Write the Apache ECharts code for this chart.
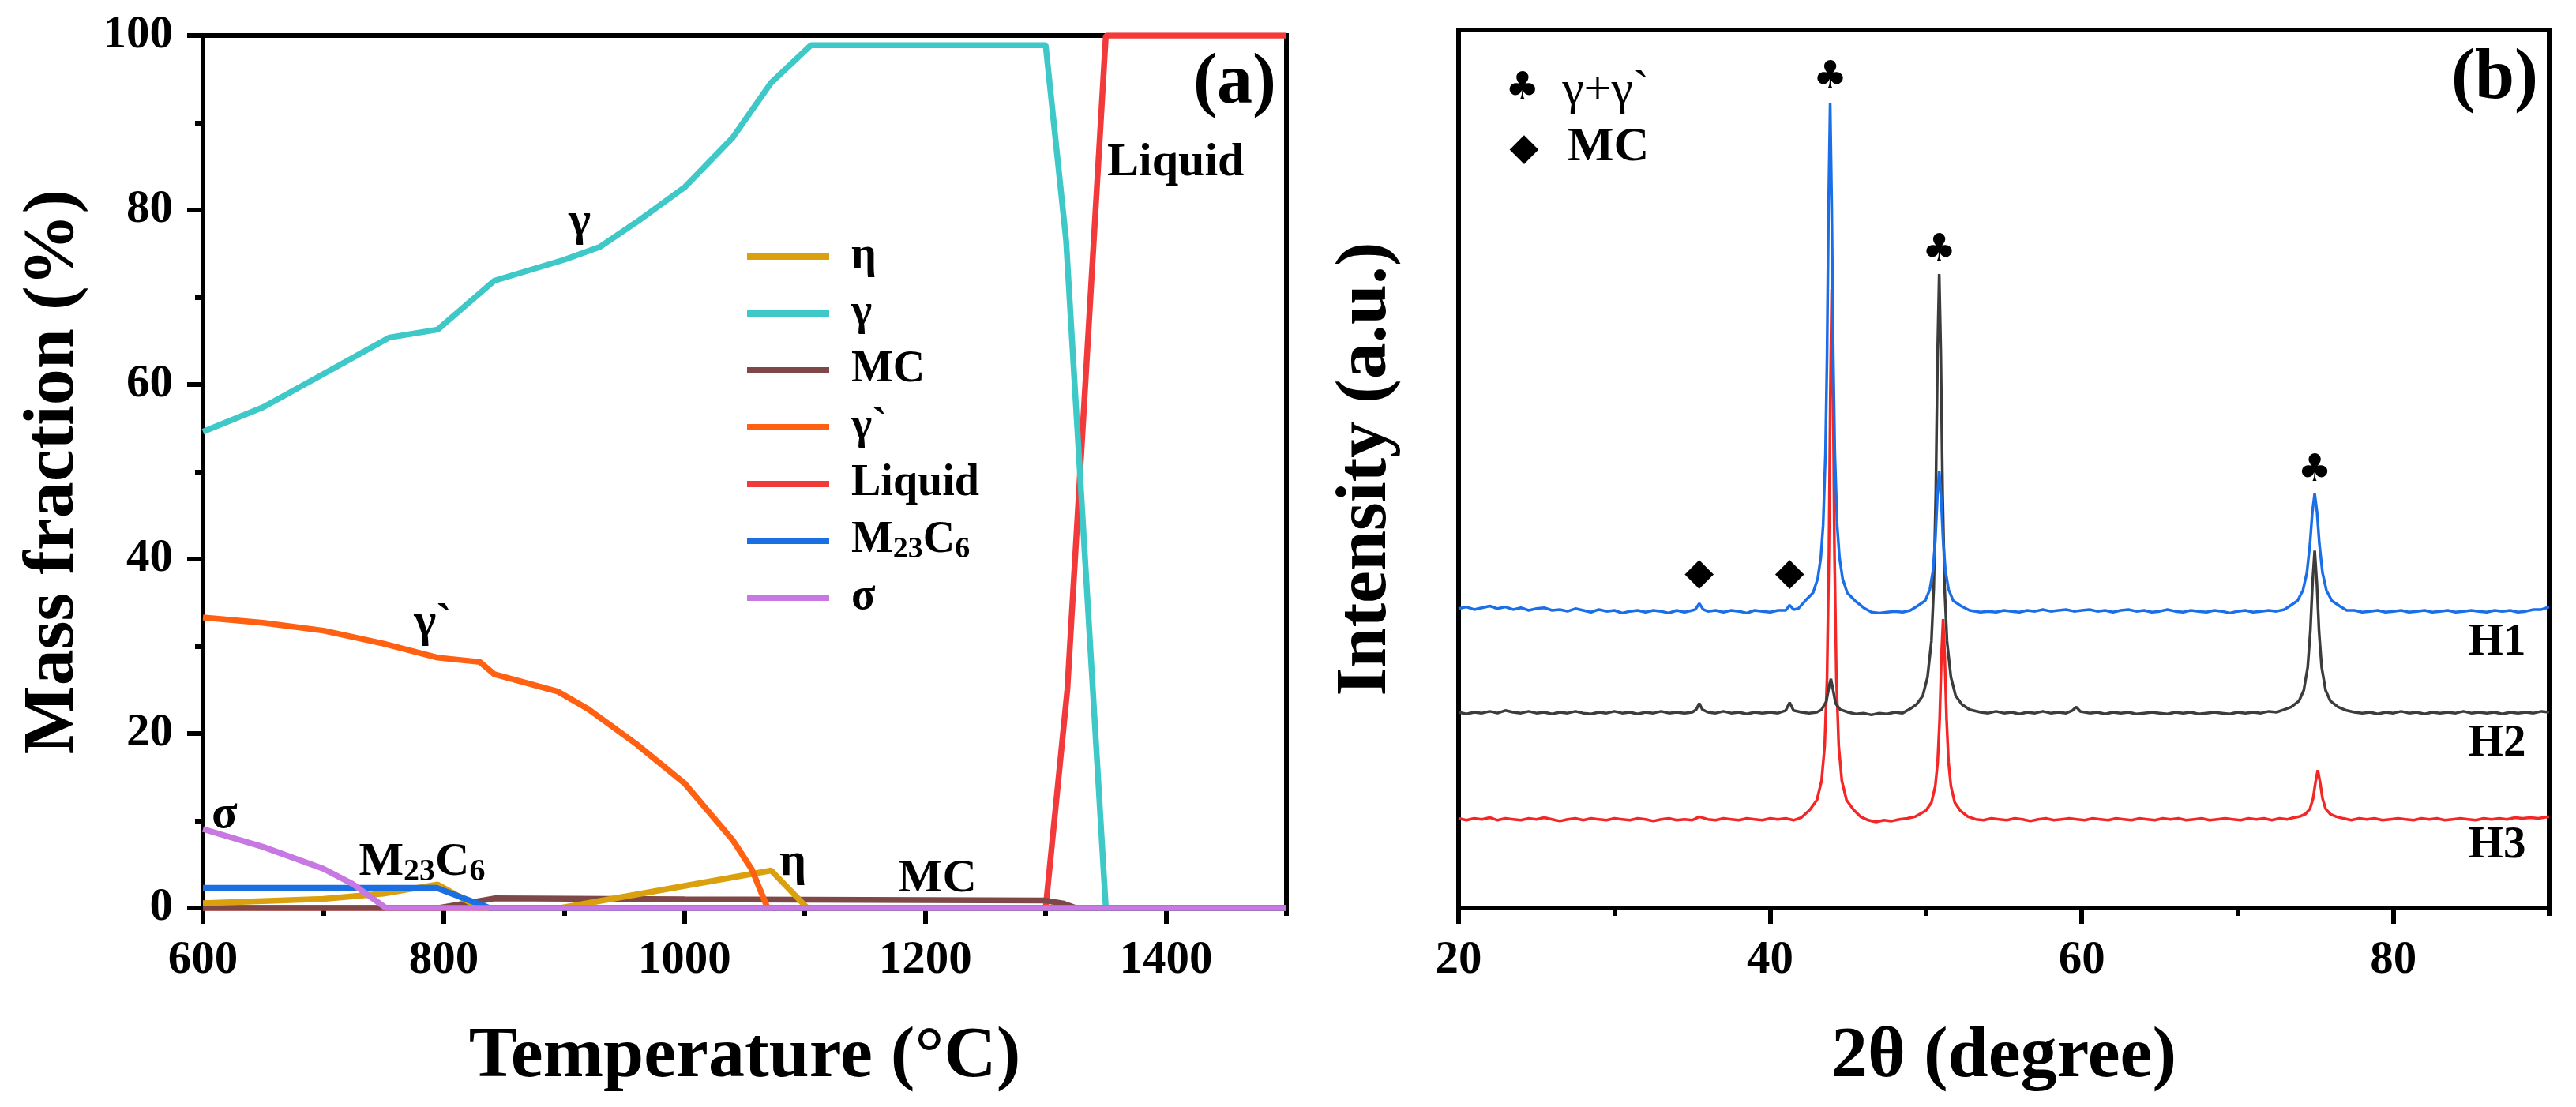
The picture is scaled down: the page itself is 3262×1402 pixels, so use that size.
<!DOCTYPE html>
<html>
<head>
<meta charset="utf-8">
<script src="https://cdn.jsdelivr.net/npm/echarts@6/dist/echarts.min.js"></script>
<style>
html, body { margin: 0; padding: 0; background: #fff; }
#main { width: 3262px; height: 1402px; }
</style>
</head>
<body>
<div id="main"></div>
<script type="text/javascript">

// ---- (a) phase mass fraction vs temperature, [T (°C), %] ----
var etaData    = [[600,0.55],[650,0.8],[700,1.05],[750,1.65],[795,2.7],[830,0],[897,0],[1072,4.3],[1102,0],[1500,0]];
var gammaData  = [[600,54.6],[650,57.4],[700,61.2],[755,65.4],[795,66.3],[842,71.9],[900,74.3],[930,75.8],[960,78.6],[1000,82.6],[1040,88.3],[1072,94.6],[1105,98.9],[1300,98.9],[1317,76.5],[1350,0],[1500,0]];
var mcData     = [[600,0],[796,0],[842,1.1],[1000,1.0],[1200,0.9],[1300,0.85],[1315,0.5],[1325,0],[1500,0]];
var gammaPData = [[600,33.3],[650,32.7],[700,31.8],[750,30.3],[795,28.7],[830,28.2],[842,26.8],[895,24.8],[920,22.8],[960,18.8],[1000,14.3],[1040,7.8],[1056,4.4],[1069,0],[1500,0]];
var liquidData = [[600,0],[1300,0],[1318,25],[1350,100],[1500,100]];
var m23Data    = [[600,2.3],[794,2.3],[838,0],[1500,0]];
var sigmaData  = [[600,9.05],[650,7.0],[700,4.5],[725,2.7],[752,0],[1500,0]];

var tempMajor = [600, 800, 1000, 1200, 1400];
var tempMinor = [700, 900, 1100, 1300, 1500];

// ---- (b) XRD patterns, [2θ, intensity (offset, a.u.)] ----
var h1Data = [[20,34.1],[20.5,34.3],[21,34.0],[21.5,34.2],[22,34.4],[22.5,34.1],[23,34.3],[23.5,34.0],[24,34.2],[24.5,33.9],[25,34.1],[25.5,34.2],[26,33.9],[26.5,34.0],[27,33.8],[27.5,34.1],[28,33.9],[28.5,33.7],[29,34.0],[29.5,33.8],[30,33.9],[30.5,33.6],[31,33.8],[31.5,33.9],[32,33.7],[32.5,33.9],[33,33.8],[33.5,33.6],[34,33.9],[34.5,33.7],[35,33.9],[35.2,34.0],[35.45,34.7],[35.7,34.0],[36,33.8],[36.5,33.9],[37,33.7],[37.5,33.9],[38,33.8],[38.5,33.6],[39,33.9],[39.5,33.8],[40,33.7],[40.5,33.9],[41,33.9],[41.25,34.5],[41.5,34.0],[41.8,34.1],[42.25,35.0],[42.75,35.9],[43.05,37.5],[43.25,39.9],[43.4,43.6],[43.55,51.8],[43.65,62.9],[43.75,80.2],[43.85,91.7],[43.95,80.2],[44.05,62.9],[44.15,51.8],[44.3,43.6],[44.45,39.9],[44.65,37.5],[44.95,35.9],[45.45,35.0],[46.0,34.2],[46.5,33.7],[47,33.6],[47.5,33.7],[48,33.8],[48.5,33.7],[49,33.9],[49.45,34.4],[49.95,35.0],[50.25,36.3],[50.45,38.4],[50.6,41.9],[50.73,46.8],[50.85,49.8],[50.97,46.8],[51.1,41.9],[51.25,38.4],[51.45,36.3],[51.75,35.0],[52.25,34.4],[52.8,33.9],[53.5,33.7],[54,33.8],[54.5,33.7],[55,33.9],[55.5,33.8],[56,33.7],[56.5,33.9],[57,33.8],[57.5,34.0],[58,33.8],[58.5,33.9],[59,34.0],[59.5,33.8],[60,33.9],[60.5,34.0],[61,33.8],[61.5,33.9],[62,33.7],[62.5,33.9],[63,34.0],[63.5,33.8],[64,33.9],[64.5,33.7],[65,33.8],[65.5,34.0],[66,33.8],[66.5,33.7],[67,33.9],[67.5,33.8],[68,33.7],[68.5,33.9],[69,33.8],[69.5,33.6],[70,33.8],[70.5,33.9],[71,33.7],[71.5,33.8],[72,33.9],[72.5,33.8],[73,34.0],[73.35,34.4],[73.85,35.0],[74.2,36.2],[74.45,38.2],[74.65,41.5],[74.8,45.1],[74.95,47.2],[75.1,45.1],[75.25,41.5],[75.45,38.2],[75.7,36.2],[76.05,35.0],[76.55,34.4],[77,33.9],[77.5,33.9],[78,33.7],[78.5,33.8],[79,33.9],[79.5,33.7],[80,33.8],[80.5,33.9],[81,33.7],[81.5,33.8],[82,33.9],[82.5,33.7],[83,33.8],[83.5,33.9],[84,33.7],[84.5,33.8],[85,33.9],[85.5,33.8],[86,33.7],[86.5,33.9],[87,33.8],[87.5,33.9],[88,33.7],[88.5,33.8],[89,34.0],[89.5,34.0],[90,34.3]];

var h2Data = [[20,22.3],[20.5,22.1],[21,22.3],[21.5,22.2],[22,22.4],[22.5,22.2],[23,22.5],[23.5,22.3],[24,22.2],[24.5,22.4],[25,22.2],[25.5,22.3],[26,22.1],[26.5,22.3],[27,22.2],[27.5,22.4],[28,22.2],[28.5,22.1],[29,22.3],[29.5,22.2],[30,22.4],[30.5,22.2],[31,22.3],[31.5,22.1],[32,22.3],[32.5,22.2],[33,22.4],[33.5,22.2],[34,22.3],[34.5,22.2],[35,22.3],[35.25,22.6],[35.45,23.3],[35.65,22.6],[36,22.3],[36.5,22.2],[37,22.4],[37.5,22.2],[38,22.3],[38.5,22.1],[39,22.3],[39.5,22.2],[40,22.3],[40.5,22.2],[41,22.5],[41.25,23.4],[41.5,22.5],[42,22.3],[42.5,22.2],[43,22.3],[43.3,22.6],[43.6,23.5],[43.8,25.4],[43.9,26.1],[44.0,25.2],[44.2,23.3],[44.5,22.6],[45,22.3],[45.5,22.1],[46,22.2],[46.5,22.0],[47,22.2],[47.5,22.1],[48,22.3],[48.5,22.2],[49,22.7],[49.4,23.2],[49.8,24.2],[50.1,26.3],[50.35,30.4],[50.5,36.4],[50.63,47.2],[50.75,63.6],[50.85,72.2],[50.95,63.6],[51.07,47.2],[51.2,36.4],[51.35,30.4],[51.6,26.3],[51.9,24.2],[52.3,23.2],[52.8,22.6],[53.5,22.3],[54,22.2],[54.5,22.4],[55,22.2],[55.5,22.3],[56,22.1],[56.5,22.3],[57,22.2],[57.5,22.4],[58,22.2],[58.5,22.3],[59,22.2],[59.4,22.5],[59.65,22.9],[59.9,22.4],[60.5,22.2],[61,22.3],[61.5,22.1],[62,22.3],[62.5,22.2],[63,22.3],[63.5,22.1],[64,22.2],[64.5,22.3],[65,22.2],[65.5,22.1],[66,22.3],[66.5,22.2],[67,22.3],[67.5,22.1],[68,22.2],[68.5,22.3],[69,22.2],[69.5,22.1],[70,22.3],[70.5,22.2],[71,22.3],[71.5,22.2],[72,22.4],[72.5,22.3],[73,22.6],[73.45,22.9],[73.95,23.6],[74.25,24.8],[74.5,27.4],[74.67,31.5],[74.81,37.0],[74.95,40.7],[75.09,37.0],[75.23,31.5],[75.4,27.4],[75.65,24.8],[75.95,23.6],[76.45,22.9],[77,22.5],[77.5,22.3],[78,22.2],[78.5,22.3],[79,22.1],[79.5,22.3],[80,22.2],[80.5,22.4],[81,22.2],[81.5,22.3],[82,22.1],[82.5,22.3],[83,22.2],[83.5,22.3],[84,22.2],[84.5,22.4],[85,22.2],[85.5,22.3],[86,22.2],[86.5,22.3],[87,22.1],[87.5,22.3],[88,22.2],[88.5,22.3],[89,22.2],[89.5,22.4],[90,22.3]];

var h3Data = [[20,10.2],[20.5,10.0],[21,10.2],[21.5,10.1],[22,10.3],[22.5,10.0],[23,10.2],[23.5,10.1],[24,10.0],[24.5,10.2],[25,10.1],[25.5,10.3],[26,10.1],[26.5,9.9],[27,10.1],[27.5,10.2],[28,10.0],[28.5,10.2],[29,10.1],[29.5,10.0],[30,10.2],[30.5,10.1],[31,10.0],[31.5,10.2],[32,10.1],[32.5,9.9],[33,10.1],[33.5,10.2],[34,10.0],[34.5,10.1],[35,10.0],[35.45,10.4],[36,10.1],[36.5,10.0],[37,10.2],[37.5,10.1],[38,10.0],[38.5,10.2],[39,10.1],[39.5,10.0],[40,10.2],[40.5,10.1],[41,10.2],[41.5,10.0],[42,10.3],[42.55,11.2],[43.0,12.3],[43.3,14.5],[43.5,18.5],[43.65,26.2],[43.77,40.3],[43.86,58.4],[43.95,70.5],[44.04,58.4],[44.13,40.3],[44.25,26.2],[44.4,18.5],[44.6,14.5],[44.9,12.3],[45.35,11.2],[45.8,10.4],[46.3,10.0],[46.8,9.8],[47.3,10.0],[47.8,9.9],[48.3,10.1],[48.8,10.2],[49.3,10.4],[49.7,10.8],[50.0,11.1],[50.35,12.0],[50.6,13.9],[50.75,16.6],[50.88,21.6],[51.0,29.0],[51.1,32.9],[51.2,29.0],[51.32,21.6],[51.45,16.6],[51.6,13.9],[51.85,12.0],[52.2,11.1],[52.7,10.4],[53.2,10.1],[53.7,10.0],[54.2,10.2],[54.7,10.1],[55.2,10.0],[55.7,10.2],[56.2,10.1],[56.7,9.9],[57.2,10.1],[57.7,10.2],[58.2,10.0],[58.7,10.1],[59.2,10.2],[59.7,10.1],[60.2,10.0],[60.7,10.2],[61.2,10.1],[61.7,10.0],[62.2,10.2],[62.7,10.1],[63.2,10.0],[63.7,10.2],[64.2,10.1],[64.7,10.0],[65.2,10.2],[65.7,10.1],[66.2,10.2],[66.7,10.0],[67.2,10.1],[67.7,10.2],[68.2,10.0],[68.7,10.1],[69.2,10.2],[69.7,10.1],[70.2,10.0],[70.7,10.2],[71.2,10.1],[71.7,10.2],[72.2,10.0],[72.7,10.2],[73.2,10.1],[73.6,10.3],[73.95,10.4],[74.35,10.7],[74.65,11.3],[74.85,12.5],[75.0,14.3],[75.15,15.7],[75.3,14.3],[75.45,12.5],[75.65,11.3],[75.95,10.7],[76.35,10.4],[76.8,10.2],[77.3,10.0],[77.8,10.2],[78.3,10.1],[78.8,10.2],[79.3,10.0],[79.8,10.1],[80.3,10.2],[80.8,10.1],[81.3,10.0],[81.8,10.2],[82.3,10.1],[82.8,10.2],[83.3,10.0],[83.8,10.1],[84.3,10.2],[84.8,10.1],[85.3,10.0],[85.8,10.2],[86.3,10.1],[86.8,10.2],[87.3,10.1],[87.8,10.3],[88.3,10.2],[88.8,10.3],[89.3,10.2],[90,10.4]];

var thetaMajor = [20, 40, 60, 80];
var thetaMinor = [30, 50, 70, 90];

// peak markers: ♣ = γ+γ`, ◆ = MC
var clubPeaks    = [[43.85, 94.6], [50.85, 74.9], [74.95, 49.8]];
var diamondPeaks = [[35.45, 38.0], [41.25, 38.0]];

var FONT = '"Liberation Serif", "Times New Roman", serif';
var SYM_FONT = '"DejaVu Sans", sans-serif';

var chart = echarts.init(document.getElementById('main'));

function plain(v) { return String(v); }

function xAxisMain(grid, min, max, name, ticks) {
    return {
        type: 'value', gridIndex: grid, min: min, max: max, position: 'bottom',
        name: name, nameLocation: 'middle', nameGap: 143,
        nameTextStyle: { fontFamily: FONT, fontWeight: 'bold', fontSize: 92, color: '#000' },
        axisLine: { show: true, onZero: false, lineStyle: { color: '#000', width: 6 } },
        axisTick: { show: true, length: 20, customValues: ticks, lineStyle: { color: '#000', width: 6 } },
        axisLabel: { margin: 37, customValues: ticks, formatter: plain, fontFamily: FONT, fontWeight: 'bold', fontSize: 59, color: '#000' },
        splitLine: { show: false }
    };
}

function xAxisMinor(grid, min, max, ticks) {
    return {
        type: 'value', gridIndex: grid, min: min, max: max, position: 'bottom',
        axisLine: { show: false, onZero: false },
        axisTick: { show: true, length: 10, customValues: ticks, lineStyle: { color: '#000', width: 6 } },
        axisLabel: { show: false },
        splitLine: { show: false }
    };
}

function phase(name, data, color) {
    return {
        name: name, type: 'line', xAxisIndex: 0, yAxisIndex: 0, data: data,
        symbol: 'none', color: color,
        lineStyle: { color: color, width: 7.5 }
    };
}

function xrd(name, data, color) {
    return {
        name: name, type: 'line', xAxisIndex: 2, yAxisIndex: 1, data: data,
        symbol: 'none', color: color,
        lineStyle: { color: color, width: 3.5 }
    };
}

var option = {
    animation: false,
    backgroundColor: '#fff',
    grid: [
        { left: 257, top: 45, width: 1372, height: 1105, show: true, borderColor: '#000', borderWidth: 6 },
        { left: 1847, top: 38, width: 1381, height: 1112, show: true, borderColor: '#000', borderWidth: 6 }
    ],
    xAxis: [
        xAxisMain(0, 600, 1500, 'Temperature (°C)', tempMajor),
        xAxisMinor(0, 600, 1500, tempMinor),
        xAxisMain(1, 20, 90, '2θ (degree)', thetaMajor),
        xAxisMinor(1, 20, 90, thetaMinor)
    ],
    yAxis: [
        {
            type: 'value', gridIndex: 0, min: 0, max: 100, interval: 20,
            name: 'Mass fraction (%)', nameLocation: 'middle', nameGap: 143,
            nameTextStyle: { fontFamily: FONT, fontWeight: 'bold', fontSize: 92, color: '#000' },
            axisLine: { show: true, lineStyle: { color: '#000', width: 6 } },
            axisTick: { show: true, length: 20, lineStyle: { color: '#000', width: 6 } },
            minorTick: { show: true, splitNumber: 2, length: 10, lineStyle: { color: '#000', width: 6 } },
            axisLabel: { margin: 38, formatter: plain, fontFamily: FONT, fontWeight: 'bold', fontSize: 59, color: '#000' },
            splitLine: { show: false }
        },
        {
            type: 'value', gridIndex: 1, min: 0, max: 100,
            name: 'Intensity (a.u.)', nameLocation: 'middle', nameGap: 71,
            nameTextStyle: { fontFamily: FONT, fontWeight: 'bold', fontSize: 92, color: '#000' },
            axisLine: { show: true, lineStyle: { color: '#000', width: 6 } },
            axisTick: { show: false },
            axisLabel: { show: false },
            splitLine: { show: false }
        }
    ],
    legend: {
        data: ['η', 'γ', 'MC', 'γ`', 'Liquid', 'M23C6', 'σ'],
        orient: 'vertical', left: 941, top: 290,
        icon: 'rect', itemWidth: 104, itemHeight: 8, itemGap: 12,
        selectedMode: false,
        formatter: function (name) {
            return name === 'M23C6' ? '{n|M}{s|23}{n|C}{s|6}' : name;
        },
        textStyle: {
            fontFamily: FONT, fontWeight: 'bold', fontSize: 56, lineHeight: 60,
            color: '#000', padding: [0, 0, 0, 23],
            rich: {
                n: { fontFamily: FONT, fontWeight: 'bold', fontSize: 56, lineHeight: 60, color: '#000' },
                s: { fontFamily: FONT, fontWeight: 'bold', fontSize: 38, lineHeight: 48, verticalAlign: 'bottom', color: '#000' }
            }
        }
    },
    // drawn bottom to top
    series: [
        phase('Liquid', liquidData, '#F23A3A'),
        phase('γ', gammaData, '#3EC8C8'),
        phase('MC', mcData, '#7E4848'),
        phase('η', etaData, '#DBA00E'),
        phase('γ`', gammaPData, '#FF6012'),
        phase('M23C6', m23Data, '#1A6FE2'),
        phase('σ', sigmaData, '#C878E2'),
        xrd('H3', h3Data, '#F42626'),
        xrd('H2', h2Data, '#3C3C3C'),
        xrd('H1', h1Data, '#1A6FE8')
    ]
};

chart.setOption(option);

// ---- text annotations, placed in data coordinates ----
var notesA = [
    { text: 'γ', at: [913, 78.6] },
    { text: 'γ`', at: [791, 32.6] },
    { text: 'σ', at: [618, 10.6] },
    { text: '{n|M}{s|23}{n|C}{s|6}', at: [782, 5.2], rich: true },
    { text: 'η', at: [1090, 5.2] },
    { text: 'MC', at: [1210, 3.3] },
    { text: 'Liquid', at: [1408, 85.4] },
    { text: '(a)', at: [1457, 94.4], size: 90 }
];
var notesB = [
    { text: '(b)', at: [86.5, 94.4], size: 90 },
    { text: 'γ+γ`', at: [26.65, 93.0], align: 'left', size: 62, weight: 'normal' },
    { text: 'MC', at: [27.0, 86.6], align: 'left', size: 62 },
    { text: 'H1', at: [88.5, 30.2], align: 'right', size: 57 },
    { text: 'H2', at: [88.5, 18.7], align: 'right', size: 57 },
    { text: 'H3', at: [88.5, 7.1], align: 'right', size: 57 }
];
var symbolsB = [{ text: '♣', at: [24.1, 93.3] }, { text: '◆', at: [24.2, 86.4] }];
clubPeaks.forEach(function (p) { symbolsB.push({ text: '♣', at: p }); });
diamondPeaks.forEach(function (p) { symbolsB.push({ text: '◆', at: p }); });

function textEl(grid, n, family) {
    var px = chart.convertToPixel({ gridIndex: grid }, n.at);
    var size = n.size || 60;
    var weight = n.weight || 'bold';
    var align = n.align || 'center';
    var style = {
        text: n.text, x: px[0], y: px[1],
        fontFamily: family, fontWeight: weight, fontSize: size, fill: '#000',
        align: align, verticalAlign: 'middle',
        textAlign: align, textVerticalAlign: 'middle'
    };
    if (n.rich) {
        style.rich = {
            n: { fontFamily: FONT, fontWeight: 'bold', fontSize: 60, lineHeight: 64, fill: '#000', color: '#000' },
            s: { fontFamily: FONT, fontWeight: 'bold', fontSize: 40, lineHeight: 52, verticalAlign: 'bottom', fill: '#000', color: '#000' }
        };
    }
    return { type: 'text', z: 100, style: style };
}

var graphics = [];
notesA.forEach(function (n) { graphics.push(textEl(0, n, FONT)); });
notesB.forEach(function (n) { graphics.push(textEl(1, n, FONT)); });
symbolsB.forEach(function (n) { n.size = 48; graphics.push(textEl(1, n, SYM_FONT)); });

chart.setOption({ graphic: graphics });

</script>
</body>
</html>
